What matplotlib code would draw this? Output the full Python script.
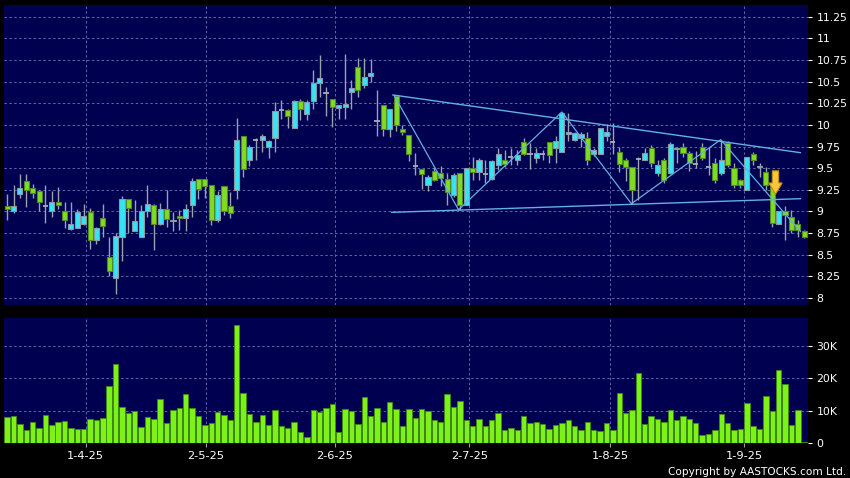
import numpy as np
import matplotlib.pyplot as plt
from matplotlib.patches import Polygon
from matplotlib.ticker import FuncFormatter

# 日K数据: 开 高 低 收
opens = [9.06, 9.00, 9.20, 9.35, 9.27, 9.24, 9.06, 9.01, 9.11, 9.00,
         8.80, 8.81, 8.86, 8.99, 8.67, 8.93, 8.47, 8.23, 8.70, 9.14,
         8.78, 8.70, 9.01, 9.08, 8.86, 9.03, 8.89, 8.95, 8.92, 9.07,
         9.38, 9.38, 9.31, 8.90, 9.29, 9.06, 9.25, 9.87, 9.59, 9.83,
         9.83, 9.75, 9.85, 10.17, 10.17, 9.97, 10.28, 10.13, 10.28, 10.48,
         10.37, 10.30, 10.20, 10.21, 10.38, 10.67, 10.46, 10.57, 10.05, 10.23,
         9.95, 10.34, 9.95, 9.88, 9.53, 9.49, 9.31, 9.47, 9.45, 9.38,
         9.19, 9.44, 9.08, 9.50, 9.46, 9.43, 9.38, 9.54, 9.60, 9.63,
         9.60, 9.80, 9.67, 9.62, 9.66, 9.80, 9.73, 9.69, 9.89, 9.83,
         9.85, 9.85, 9.67, 9.66, 9.87, 9.80, 9.69, 9.60, 9.51, 9.61,
         9.60, 9.73, 9.44, 9.59, 9.45, 9.72, 9.74, 9.68, 9.55, 9.75,
         9.52, 9.56, 9.45, 9.79, 9.50, 9.36, 9.25, 9.67, 9.51, 9.46,
         9.28, 8.86, 9.00, 8.94, 8.86, 8.77]
highs = [9.20, 9.31, 9.43, 9.43, 9.32, 9.25, 9.31, 9.24, 9.28, 9.11,
         9.11, 9.03, 9.09, 9.04, 8.82, 9.09, 8.70, 8.75, 9.18, 9.15,
         9.13, 9.08, 9.31, 9.09, 9.10, 9.25, 8.99, 9.02, 9.09, 9.39,
         9.38, 9.38, 9.31, 9.24, 9.29, 9.23, 10.08, 9.87, 9.77, 9.85,
         9.89, 9.83, 10.27, 10.29, 10.19, 10.29, 10.30, 10.29, 10.64, 10.81,
         10.44, 10.30, 10.23, 10.82, 10.52, 10.78, 10.78, 10.76, 10.40, 10.23,
         10.18, 10.34, 10.00, 9.88, 9.68, 9.49, 9.42, 9.52, 9.53, 9.44,
         9.44, 9.44, 9.50, 9.63, 9.62, 9.60, 9.59, 9.73, 9.71, 9.73,
         9.71, 9.85, 9.79, 9.73, 9.71, 9.80, 9.87, 10.15, 10.14, 9.92,
         9.92, 9.92, 9.73, 9.97, 10.01, 10.02, 9.75, 9.62, 9.51, 9.63,
         9.73, 9.77, 9.60, 9.62, 9.80, 9.75, 9.79, 9.70, 9.70, 9.79,
         9.75, 9.62, 9.83, 9.81, 9.56, 9.38, 9.63, 9.69, 9.56, 9.51,
         9.31, 9.00, 9.06, 9.02, 8.90, 8.79]
lows = [8.90, 8.98, 9.16, 9.05, 9.16, 9.01, 8.87, 8.94, 9.03, 8.81,
        8.79, 8.81, 8.84, 8.57, 8.62, 8.70, 8.25, 8.05, 8.43, 8.75,
        8.77, 8.70, 8.94, 8.55, 8.84, 8.82, 8.77, 8.79, 8.78, 8.94,
        9.14, 9.16, 8.84, 8.88, 8.96, 8.92, 9.15, 9.40, 9.53, 9.60,
        9.69, 9.62, 9.69, 10.07, 9.96, 9.97, 10.06, 10.06, 10.19, 10.32,
        10.10, 9.98, 10.07, 10.07, 10.19, 10.32, 10.43, 10.50, 9.87, 9.87,
        9.86, 9.93, 9.88, 9.58, 9.42, 9.26, 9.24, 9.35, 9.29, 9.08,
        9.17, 9.02, 9.08, 9.36, 9.36, 9.33, 9.36, 9.48, 9.52, 9.54,
        9.54, 9.65, 9.49, 9.56, 9.60, 9.56, 9.56, 9.69, 9.81, 9.82,
        9.75, 9.54, 9.64, 9.66, 9.81, 9.67, 9.46, 9.35, 9.09, 9.13,
        9.60, 9.52, 9.41, 9.33, 9.43, 9.56, 9.63, 9.47, 9.50, 9.60,
        9.42, 9.33, 9.42, 9.52, 9.27, 9.27, 9.25, 9.54, 9.40, 9.25,
        8.82, 8.85, 8.67, 8.75, 8.71, 8.69]
closes = [9.03, 9.06, 9.27, 9.25, 9.21, 9.11, 9.06, 9.11, 9.08, 8.90,
          8.86, 8.99, 8.95, 8.67, 8.81, 8.83, 8.31, 8.72, 9.14, 9.04,
          8.89, 9.01, 9.09, 8.86, 9.03, 8.91, 8.90, 8.92, 9.03, 9.35,
          9.26, 9.30, 8.90, 9.19, 9.01, 8.98, 9.83, 9.49, 9.74, 9.83,
          9.87, 9.81, 10.16, 10.17, 10.10, 10.28, 10.18, 10.26, 10.48, 10.54,
          10.37, 10.21, 10.23, 10.24, 10.43, 10.40, 10.56, 10.60, 10.05, 9.95,
          10.18, 10.00, 9.92, 9.66, 9.53, 9.43, 9.40, 9.36, 9.39, 9.22,
          9.42, 9.08, 9.50, 9.46, 9.60, 9.43, 9.58, 9.67, 9.55, 9.63,
          9.65, 9.67, 9.67, 9.68, 9.66, 9.65, 9.82, 10.14, 9.92, 9.91,
          9.90, 9.60, 9.71, 9.97, 9.92, 9.80, 9.55, 9.51, 9.25, 9.61,
          9.68, 9.56, 9.54, 9.36, 9.78, 9.73, 9.68, 9.56, 9.55, 9.62,
          9.52, 9.36, 9.60, 9.54, 9.31, 9.31, 9.63, 9.60, 9.53, 9.31,
          8.87, 9.00, 8.96, 8.79, 8.79, 8.70]
# 成交量(千股)
volumes_k = [8.2, 8.5, 6.0, 4.1, 6.4, 4.7, 8.8, 5.7, 6.4, 6.8,
             4.7, 4.4, 4.4, 7.5, 7.2, 7.7, 17.7, 24.5, 11.3, 9.4,
             10.0, 4.8, 7.9, 7.4, 13.6, 6.2, 10.1, 10.9, 15.3, 10.9,
             8.5, 5.7, 6.2, 9.6, 8.8, 7.0, 36.6, 15.5, 9.1, 6.4,
             8.7, 5.7, 10.3, 5.4, 4.7, 6.6, 3.5, 1.9, 10.1, 9.5,
             10.9, 12.1, 3.5, 10.5, 10.0, 6.0, 14.2, 8.5, 10.9, 6.4,
             12.8, 10.4, 5.4, 10.5, 7.7, 10.6, 9.8, 7.2, 6.4, 15.3,
             11.1, 12.9, 7.2, 5.2, 7.4, 5.4, 7.2, 9.3, 4.1, 4.6,
             4.1, 8.5, 6.2, 6.6, 5.9, 4.4, 5.7, 6.2, 7.2, 5.2,
             4.1, 6.4, 4.1, 3.6, 6.2, 3.9, 15.5, 9.3, 10.1, 21.6,
             6.0, 8.5, 7.5, 6.6, 10.3, 7.2, 8.5, 7.5, 6.2, 2.5,
             2.9, 4.1, 9.0, 6.2, 4.1, 4.4, 12.4, 5.4, 4.4, 14.6,
             9.8, 22.5, 18.4, 5.7, 10.3, 0.2]

date_labels = ['1-4-25', '2-5-25', '2-6-25', '2-7-25', '1-8-25', '1-9-25']
date_pos = [12.3, 31.2, 51.4, 72.5, 94.6, 115.6]

# 三角形形态画线
upper_x, upper_y = [60.5, 124.4], [10.347, 9.68]
lower_x, lower_y = [60.3, 124.4], [8.99, 9.148]
zig_x = [60.7, 70.8, 87.0, 97.9, 111.9, 124.4]
zig_y = [10.34, 9.02, 10.15, 9.09, 9.83, 8.77]
# 下跌箭头
arrow_x, arrow_top, arrow_neck, arrow_tip = 120.5, 9.47, 9.33, 9.20

bg = '#000050'
grid_c = '#5a6aa8'
up_fill, up_edge = '#36e4f2', '#8a98a8'
dn_fill, dn_edge = '#80dc22', '#4f8a22'
line_c = '#62b0e6'

o = np.array(opens); h = np.array(highs); l = np.array(lows); c = np.array(closes)
v = np.array(volumes_k) * 1000
x = np.arange(len(o))

fig = plt.figure(figsize=(8.5, 4.78), dpi=100, facecolor='black')
ax = fig.add_axes([4/850, 1-305/478, 804/850, 300/478])
axv = fig.add_axes([4/850, 1-443/478, 804/850, 125/478], sharex=ax)

for a in (ax, axv):
    a.set_facecolor(bg)
    for s in a.spines.values():
        s.set_visible(False)
    a.grid(True, color=grid_c, linestyle=(0, (2.5, 2.5)), linewidth=0.7)
    a.set_axisbelow(True)
    a.yaxis.tick_right()
    a.tick_params(axis='y', colors='white', labelsize=7.8, length=3, width=0.8, pad=3)

# 影线
ax.vlines(x, l, h, color='#9aa2ac', linewidth=1.0, zorder=2)
# 实体
up = c > o
dn = c < o
doji = c == o
ax.bar(x[up], (c - o)[up], bottom=o[up], width=0.8, color=up_fill,
       edgecolor=up_edge, linewidth=0.8, zorder=3)
ax.bar(x[dn], (o - c)[dn], bottom=c[dn], width=0.8, color=dn_fill,
       edgecolor=dn_edge, linewidth=0.8, zorder=3)
ax.hlines(c[doji], x[doji] - 0.4, x[doji] + 0.4, color='#a8aeb6', linewidth=1.3, zorder=3)

# 画线
ax.plot(upper_x, upper_y, color=line_c, linewidth=1.0, zorder=4)
ax.plot(lower_x, lower_y, color=line_c, linewidth=1.0, zorder=4)
ax.plot(zig_x, zig_y, color=line_c, linewidth=0.9, zorder=4)

arrow = Polygon([[arrow_x - 0.5, arrow_top], [arrow_x + 0.5, arrow_top],
                 [arrow_x + 0.5, arrow_neck], [arrow_x + 1.05, arrow_neck],
                 [arrow_x, arrow_tip], [arrow_x - 1.05, arrow_neck],
                 [arrow_x - 0.5, arrow_neck]],
                closed=True, facecolor='#f6c63c', edgecolor='#c98a12',
                linewidth=0.8, zorder=5)
ax.add_patch(arrow)

ax.set_ylim(7.919, 11.387)
ax.set_yticks(np.arange(8, 11.26, 0.25))
ax.yaxis.set_major_formatter(FuncFormatter(lambda val, p: '{:g}'.format(round(val, 2))))
ax.set_xlim(-0.5, 125.6)
ax.set_xticks(date_pos)
ax.tick_params(axis='x', length=0, labelbottom=False)

# 成交量
axv.bar(x, v, width=0.85, color='#7cf218', edgecolor='#3f8a12', linewidth=0.6, zorder=3)
axv.set_ylim(0, 38700)
axv.set_yticks([0, 10000, 20000, 30000])
axv.yaxis.set_major_formatter(FuncFormatter(lambda val, p: '0' if val == 0 else '%dK' % (val / 1000)))
axv.set_xticks(date_pos)
axv.set_xticklabels(date_labels)
axv.tick_params(axis='x', colors='white', labelsize=8.2, length=3, width=0.8, pad=3,
                color='#9aa2ac')

fig.text(0.995, 0.002, 'Copyright by AASTOCKS.com Ltd.', ha='right', va='bottom',
         color='white', fontsize=7.6)

fig.savefig('out.png', dpi=100, facecolor='black')
